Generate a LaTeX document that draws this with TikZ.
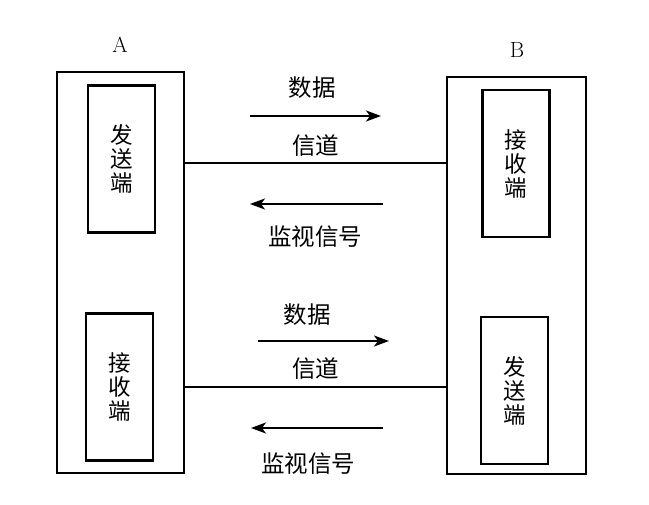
\documentclass[tikz,border=0pt]{standalone}
\usepackage{fontspec}
\newfontfamily\cjk{Noto Sans CJK SC}
\usetikzlibrary{arrows.meta,positioning}
\definecolor{ink}{RGB}{0,0,0}
\tikzset{
  >={Stealth[length=15pt,width=11pt,inset=4pt]},
  station/.style={draw=ink,line width=2pt,minimum width=#1,inner sep=0pt},
  endbox/.style={draw=ink,line width=2.8pt,minimum width=67pt,minimum height=147pt,
    align=center,font=\cjk\fontsize{22.5}{24}\selectfont,inner sep=0pt},
  chan/.style={draw=ink,line width=2.2pt},
  flow/.style={->,draw=ink,line width=2.2pt},
  tag/.style={font=\cjk\fontsize{23.5}{26}\selectfont,inner sep=0pt},
  side/.style={font=\fontsize{22}{24}\selectfont,inner sep=0pt},
}
\begin{document}
\begin{tikzpicture}[x=1pt,y=-1pt]
  \useasboundingbox (0,0) rectangle (649,505);
  % the two stations
  \node[station=127pt,minimum height=401pt] (a) at (120.5,272.5) {};
  \node[station=139pt,minimum height=397pt] (b) at (516.5,275.5) {};
  \node[side] (alab) at (120,45) {A};
  \node[side] (blab) at (517,50) {B};
  \node[endbox] (atx) at (121.5,159) {发\\送\\端};
  \node[endbox] (arx) at (119.5,387) {接\\收\\端};
  \node[endbox] (brx) at (516,163.5) {接\\收\\端};
  \node[endbox] (btx) at (514.5,390.5) {发\\送\\端};
  % upper channel
  \coordinate (c1) at (0,163);
  \draw[chan] (a.east |- c1) -- node[tag,above=5pt] (ch1) {信道} (b.west |- c1);
  \coordinate (d1s) at (250,116); \coordinate (d1e) at (381,116);
  \draw[flow] (d1s) -- (d1e);
  \node[tag] (dat1) at (312,88) {数据};
  \coordinate (m1s) at (383,204); \coordinate (m1e) at (250,204);
  \draw[flow] (m1s) -- (m1e);
  \node[tag] (mon1) at (315,237) {监视信号};
  % lower channel
  \coordinate (c2) at (0,387);
  \draw[chan] (a.east |- c2) -- node[tag,above=6pt] (ch2) {信道} (b.west |- c2);
  \coordinate (d2s) at (258,341); \coordinate (d2e) at (389,341);
  \draw[flow] (d2s) -- (d2e);
  \node[tag] (dat2) at (307,315) {数据};
  \coordinate (m2s) at (383,428); \coordinate (m2e) at (251,428);
  \draw[flow] (m2s) -- (m2e);
  \node[tag] (mon2) at (308,464) {监视信号};
\end{tikzpicture}
\end{document}
